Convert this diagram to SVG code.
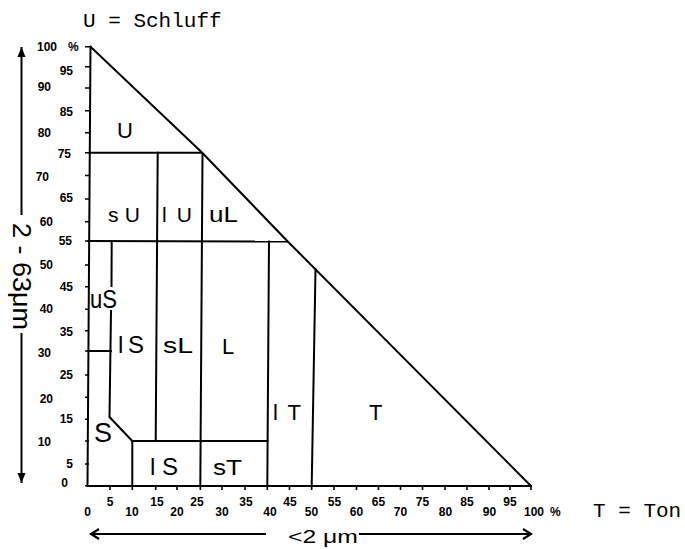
<svg xmlns="http://www.w3.org/2000/svg" width="685" height="549" viewBox="0 0 685 549">
<defs>
<style>
.ln{stroke:#000;stroke-width:2;fill:none;stroke-linecap:square}
.tk{stroke:#000;stroke-width:1.6;fill:none}
.num{font-family:"Liberation Sans",Arial,sans-serif;font-weight:bold;font-size:12px;fill:#000}
.lab{font-family:"Liberation Sans",Arial,sans-serif;font-size:22px;fill:#000}
.mono{font-family:"Liberation Mono","Courier New",monospace;font-size:21px;fill:#000}
.ax{font-family:"Liberation Sans",Arial,sans-serif;fill:#000}
</style>
<marker id="tri" viewBox="0 0 10 10" refX="9" refY="5" markerWidth="10" markerHeight="10" markerUnits="userSpaceOnUse" orient="auto">
<path d="M0,1 L10,5 L0,9 Z" fill="#000"/>
</marker>
<marker id="chev" viewBox="0 0 12 12" refX="10" refY="6" markerWidth="12" markerHeight="12" markerUnits="userSpaceOnUse" orient="auto-start-reverse">
<path d="M2,1 L10,6 L2,11" fill="none" stroke="#000" stroke-width="2.2"/>
</marker>
</defs>
<rect width="685" height="549" fill="#fff"/>

<!-- titles -->
<text class="mono" x="83" y="27">U = Schluff</text>
<text class="mono" x="593" y="517">T = Ton</text>

<!-- axes and triangle -->
<g id="frame">
<polyline class="ln" points="90.5,46.7 87.5,486 531,486"/>
<polyline class="ln" stroke-width="2.4" points="90.5,46.7 201.7,152.3 288,241.7 531,486"/>
</g>

<!-- region boundaries -->
<g id="boundaries">
<line class="ln" x1="89.5" y1="152.7" x2="201" y2="152.7"/>
<line class="ln" x1="88.5" y1="241" x2="288" y2="241.5"/>
<line class="ln" x1="157.7" y1="152.7" x2="155.7" y2="441"/>
<line class="ln" x1="202.5" y1="155" x2="200.3" y2="486"/>
<line class="ln" x1="269" y1="241.5" x2="267.3" y2="486"/>
<line class="ln" x1="315.5" y1="269.5" x2="311.7" y2="486"/>
<line class="ln" x1="111.7" y1="241" x2="111.5" y2="286"/>
<polyline class="ln" points="111,311 109.5,417 132.3,441"/>
<line class="ln" x1="88" y1="351" x2="111" y2="351"/>
<line class="ln" x1="132.3" y1="441" x2="267.3" y2="441"/>
<line class="ln" x1="132.3" y1="441" x2="132.3" y2="486"/>
</g>

<!-- ticks -->
<g id="ticks">
<path class="tk" d="M85,46.7h5 M85,66.7h5 M85,88h5 M85,110.7h5 M85,132.7h5 M85,152.7h5 M85,175.5h5 M85,199h5 M85,221.7h5 M85,241h4 M85,265h4 M85,286.7h4 M85,309.3h4 M85,330.7h4 M85,351h4 M85,375h4 M85,397.3h4 M85,419.3h4 M85,441h4 M85,464h4 M85,485.7h4"/>
<path class="tk" d="M110,486v4 M132.3,486v4 M155.7,486v4 M177,486v4 M200.3,486v4 M222,486v4 M245,486v4 M267.3,486v4 M289.5,486v4 M311.7,486v4 M334,486v4 M356.5,486v4 M378.5,486v4 M400.5,486v4 M422.5,486v4 M445,486v4 M467,486v4 M489,486v4 M510,486v4 M531,486v4"/>
</g>

<!-- left scale -->
<g id="yscale" class="num">
<text x="37" y="51">100<tspan x="68">%</tspan></text>
<g text-anchor="end">
<text x="73" y="75">95</text>
<text x="51" y="91">90</text>
<text x="73" y="116">85</text>
<text x="51" y="137">80</text>
<text x="71" y="158">75</text>
<text x="49" y="181">70</text>
<text x="73" y="202">65</text>
<text x="53" y="226">60</text>
<text x="72" y="245">55</text>
<text x="53" y="269">50</text>
<text x="73" y="291">45</text>
<text x="53" y="313">40</text>
<text x="73" y="336">35</text>
<text x="51" y="357">30</text>
<text x="73" y="379">25</text>
<text x="53" y="403">20</text>
<text x="73" y="423">15</text>
<text x="51" y="446">10</text>
<text x="73" y="468">5</text>
<text x="68" y="487">0</text>
</g>
</g>

<!-- bottom scale -->
<g id="xscale" class="num" text-anchor="middle">
<text x="87.5" y="516">0</text>
<text x="110" y="506">5</text>
<text x="132" y="516">10</text>
<text x="157" y="506">15</text>
<text x="177" y="516">20</text>
<text x="197" y="506">25</text>
<text x="222" y="516">30</text>
<text x="246" y="506">35</text>
<text x="270" y="516">40</text>
<text x="290" y="506">45</text>
<text x="311.5" y="516">50</text>
<text x="334.5" y="506">55</text>
<text x="356.5" y="516">60</text>
<text x="378.5" y="506">65</text>
<text x="400.5" y="516">70</text>
<text x="422.5" y="506">75</text>
<text x="445.5" y="516">80</text>
<text x="467" y="506">85</text>
<text x="489.5" y="516">90</text>
<text x="510" y="506">95</text>
<text x="524" y="516" text-anchor="start">100<tspan x="550">%</tspan></text>
</g>

<!-- region labels -->
<g id="labels" class="lab">
<text x="117" y="138">U</text>
<text x="108" y="222" font-size="21" textLength="32">sU</text>
<text x="162" y="222" font-size="21" textLength="30">lU</text>
<text x="209" y="222" textLength="29" lengthAdjust="spacingAndGlyphs">uL</text>
<text x="90" y="308" font-size="26" textLength="27" lengthAdjust="spacingAndGlyphs">uS</text>
<text x="118" y="353" font-size="24" textLength="26">lS</text>
<text x="163" y="353" textLength="30" lengthAdjust="spacingAndGlyphs">sL</text>
<text x="222" y="354">L</text>
<text x="94" y="442" font-size="27">S</text>
<text x="150" y="475" font-size="24" textLength="28">lS</text>
<text x="213" y="475" textLength="29" lengthAdjust="spacingAndGlyphs">sT</text>
<text x="273" y="420" font-size="22" textLength="28">lT</text>
<text x="369" y="420">T</text>
</g>

<!-- axis arrows -->
<g id="arrows">
<line class="ln" x1="21.5" y1="214" x2="21.5" y2="48" marker-end="url(#tri)"/>
<line class="ln" x1="21.5" y1="334" x2="21.5" y2="482" marker-end="url(#tri)"/>
<line class="ln" x1="265" y1="534" x2="91" y2="534" marker-end="url(#chev)"/>
<line class="ln" x1="360" y1="534" x2="531" y2="534" marker-end="url(#chev)"/>
<text class="ax" x="288" y="543" font-size="19" textLength="70" lengthAdjust="spacingAndGlyphs">&lt;2 μm</text>
<text class="ax" font-size="26" textLength="107" lengthAdjust="spacingAndGlyphs" transform="translate(13,223) rotate(90)">2 - 63μm</text>
</g>
</svg>
